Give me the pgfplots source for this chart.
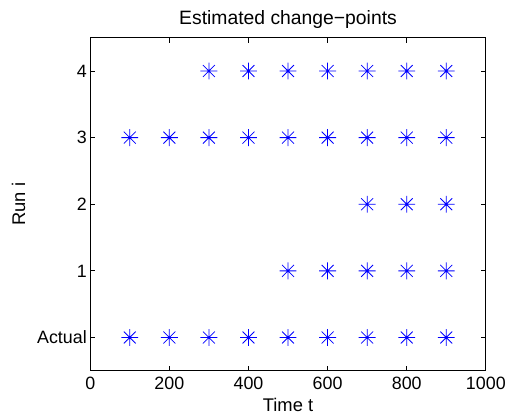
\documentclass[border=0pt]{standalone}
\usepackage{pgfplots}
\pgfplotsset{compat=1.18}
\usepackage{fontspec}
\setmainfont{Liberation Sans}
\pgfdeclareplotmark{mstar}{%
  \pgfpathmoveto{\pgfqpoint{-\pgfplotmarksize}{0pt}}\pgfpathlineto{\pgfqpoint{\pgfplotmarksize}{0pt}}%
  \pgfpathmoveto{\pgfqpoint{0pt}{-\pgfplotmarksize}}\pgfpathlineto{\pgfqpoint{0pt}{\pgfplotmarksize}}%
  \pgfpathmoveto{\pgfqpoint{-0.707\pgfplotmarksize}{-0.707\pgfplotmarksize}}\pgfpathlineto{\pgfqpoint{0.707\pgfplotmarksize}{0.707\pgfplotmarksize}}%
  \pgfpathmoveto{\pgfqpoint{-0.707\pgfplotmarksize}{0.707\pgfplotmarksize}}\pgfpathlineto{\pgfqpoint{0.707\pgfplotmarksize}{-0.707\pgfplotmarksize}}%
  \pgfusepathqstroke}
\begin{document}
\begin{tikzpicture}
\begin{axis}[
  at={(0pt,0pt)}, anchor=south west,
  scale only axis, width=399pt, height=336pt,
  xmin=0, xmax=1000, ymin=-0.5, ymax=4.5,
  xtick={0,200,400,600,800,1000},
  ytick={0,1,2,3,4}, yticklabels={Actual,1,2,3,4},
  tick align=inside, major tick length=5pt,
  tick style={black, line width=0.8pt},
  axis line style={line width=0.8pt},
  ticklabel style={font=\fontsize{18}{21}\selectfont},
  /pgf/number format/assume math mode=true,
  /pgf/number format/1000 sep={},
  xticklabel style={yshift=-3pt},
  label style={font=\fontsize{18.5}{22}\selectfont},
  xlabel={Time t}, ylabel={Run i},
  xlabel style={yshift=-1pt},
  ylabel style={yshift=5pt},
  title={Estimated change−points},
  title style={font=\fontsize{19.5}{23}\selectfont, yshift=0pt},
]
\addplot[only marks, mark=mstar, mark size=8.5pt, blue, line width=0.8pt] coordinates {
 (100,0)(200,0)(300,0)(400,0)(500,0)(600,0)(700,0)(800,0)(900,0)
 (500,1)(600,1)(700,1)(800,1)(900,1)
 (700,2)(800,2)(900,2)
 (100,3)(200,3)(300,3)(400,3)(500,3)(600,3)(700,3)(800,3)(900,3)
 (300,4)(400,4)(500,4)(600,4)(700,4)(800,4)(900,4)
};
\end{axis}
\useasboundingbox (-91pt,-43pt) rectangle (418pt,374pt);
\end{tikzpicture}
\end{document}
